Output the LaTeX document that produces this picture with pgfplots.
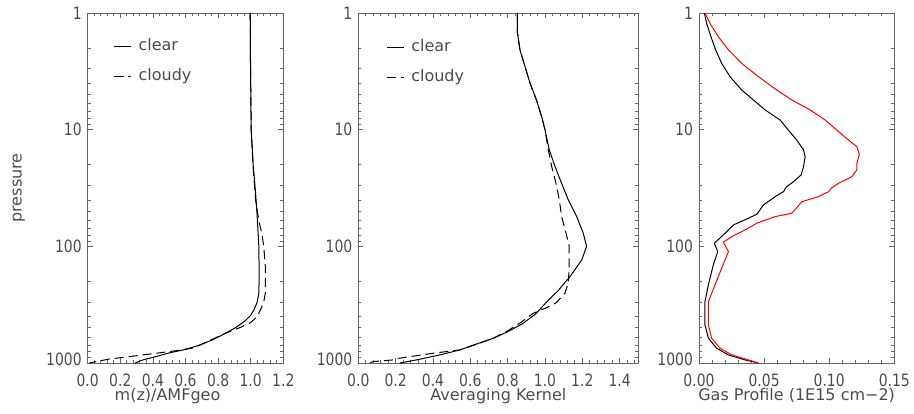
\documentclass[border=0pt]{standalone}
\usepackage{pgfplots}
\pgfplotsset{compat=1.18}
\usepackage{fontspec}
\setmainfont{DejaVu Sans}
\newfontfamily\tickfont[FakeStretch=0.82]{DejaVu Sans}
\definecolor{txt}{gray}{0.3}
\definecolor{frm}{gray}{0.4}
\pgfplotsset{
  every axis/.append style={
  scale only axis, height=350pt, y dir=reverse, ymin=1, ymax=1000,
  ytick={1,10,100,1000}, yticklabels={1,10,100,\raisebox{8pt}{1000}},
  minor ytick={2,3,4,5,6,7,8,9,20,30,40,50,60,70,80,90,200,300,400,500,600,700,800,900},
  tick align=inside, major tick length=5pt, minor tick length=3pt,
  axis line style={frm, line width=0.9pt},
  tick style={frm, line width=0.8pt},
  tick label style={font=\tickfont\fontsize{17}{17}\selectfont, text=txt},
  xticklabel style={anchor=base, yshift=-23pt},
  yticklabel style={xshift=-2.5pt},
  xlabel style={font=\fontsize{16}{16}\selectfont, text=txt, at={(axis description cs:0.5,0)}, anchor=base, yshift=-37pt},
  ylabel style={font=\fontsize{16}{16}\selectfont, text=txt},
  legend style={draw=none, fill=none, inner sep=0pt, font=\fontsize{16}{16}\selectfont, text=txt,
     row sep=14pt, column sep=7pt, nodes={inner sep=0pt, text height=12pt, text depth=4pt}},
  legend cell align=left,
 },
 every axis plot/.append style={line join=round},
}
\begin{document}
\begin{tikzpicture}
\path[use as bounding box] (0,0) rectangle (914pt,414pt);
% Panel 1
\begin{semilogyaxis}[width=195.6pt, at={(87.7pt,401pt)}, anchor=north west,
  xmin=0, xmax=1.2, xtick={0,0.2,0.4,0.6,0.8,1.0,1.2},
  xticklabels={0.0,0.2,0.4,0.6,0.8,1.0,1.2}, minor x tick num=4,
  xlabel={m(z)/AMFgeo}, xlabel style={xshift=-18pt},
  ylabel={pressure}, ylabel style={at={(axis description cs:-0.3374,0.5)}, anchor=base, rotate=0},
  legend style={at={(axis description cs:0.131,0.9286)}, anchor=north west}]
\addplot[black, line width=1pt] coordinates {(0.997,1) (0.999,3) (1.003,10) (1.015,20) (1.03,35) (1.04,56) (1.05,100) (1.052,180) (1.05,250) (1.04,300) (1.02,350) (1.0,390) (0.97,430) (0.91,495) (0.85,552) (0.77,630) (0.69,700) (0.60,765) (0.50,819) (0.42,880) (0.34,940) (0.29,1000)};
\addlegendentry{clear}
\addplot[black, line width=1pt, dash pattern=on 9pt off 5pt] coordinates {(0.997,1) (0.999,3) (1.003,10) (1.014,20) (1.03,40) (1.05,60) (1.07,80) (1.08,100) (1.09,150) (1.09,250) (1.08,300) (1.06,350) (1.04,400) (1.00,450) (0.93,500) (0.85,552) (0.75,640) (0.65,742) (0.54,785) (0.44,819) (0.33,855) (0.24,887) (0.135,923) (0.04,980) (0.01,1000)};
\addlegendentry{cloudy}
\end{semilogyaxis}
% Panel 2
\begin{semilogyaxis}[width=280pt, at={(358.3pt,401pt)}, anchor=north west,
  xmin=0, xmax=1.5, xtick={0,0.2,0.4,0.6,0.8,1.0,1.2,1.4},
  xticklabels={0.0,0.2,0.4,0.6,0.8,1.0,1.2,1.4},
  minor xtick={0.04,0.08,0.12,0.16,0.24,0.28,0.32,0.36,0.44,0.48,0.52,0.56,0.64,0.68,0.72,0.76,0.84,0.88,0.92,0.96,1.04,1.08,1.12,1.16,1.24,1.28,1.32,1.36,1.44,1.48},
  xlabel={Averaging Kernel},
  legend style={at={(axis description cs:0.099,0.924)}, anchor=north west}]
\addplot[black, line width=1pt] coordinates {(0.852,1) (0.852,1.45) (0.866,2.07) (0.893,2.88) (0.92,4.0) (0.955,5.6) (0.982,7.7) (1.0,10) (1.023,14.9) (1.054,20.7) (1.089,28.8) (1.125,40) (1.17,55.6) (1.205,77) (1.223,100) (1.197,131) (1.134,182) (1.07,240) (1.009,300) (0.95,380) (0.88,460) (0.80,540) (0.723,614) (0.62,700) (0.545,772) (0.438,852) (0.313,940) (0.223,1000)};
\addlegendentry{clear}
\addplot[black, line width=1pt, dash pattern=on 9pt off 5pt] coordinates {(0.852,1) (0.852,1.45) (0.866,2.07) (0.893,2.88) (0.92,4.0) (0.955,5.6) (0.982,7.7) (1.0,10) (1.018,14.9) (1.036,20.7) (1.059,28.8) (1.077,40) (1.089,55.6) (1.113,77) (1.13,100) (1.13,149) (1.125,207) (1.107,252) (1.06,305) (1.0,340) (0.937,375) (0.87,450) (0.80,530) (0.723,614) (0.545,772) (0.40,825) (0.22,910) (0.19,940) (0.08,972) (0.06,1000)};
\addlegendentry{cloudy}
\end{semilogyaxis}
% Panel 3
\begin{semilogyaxis}[width=195.3pt, at={(699pt,401pt)}, anchor=north west,
  xmin=0, xmax=0.15, xtick={0,0.05,0.1,0.15},
  xticklabels={0.00,0.05,0.10,0.15}, minor x tick num=4,
  xlabel={Gas Profile (1E15 cm\textminus 2)}]
\addplot[black, line width=1pt] coordinates {(0.0041,1) (0.0059,1.23) (0.0092,1.6) (0.0128,2.07) (0.0174,2.7) (0.0238,3.51) (0.0328,4.57) (0.0418,5.57) (0.0508,6.78) (0.0623,8.26) (0.0687,10.1) (0.0751,12.3) (0.0803,14.9) (0.0815,17) (0.0803,20.7) (0.0785,24.4) (0.0726,27.9) (0.067,31) (0.0649,34) (0.0585,37.5) (0.0495,44.2) (0.0444,53.1) (0.0379,57.5) (0.0264,65.6) (0.02,77.3) (0.0118,94.1) (0.0144,111) (0.011,144) (0.0072,214) (0.0046,298) (0.0046,387) (0.0046,471) (0.0072,614) (0.0136,747) (0.0226,853) (0.0354,941) (0.0456,1000)};
\addplot[red, line width=1pt] coordinates {(0.0046,1) (0.0085,1.23) (0.0149,1.6) (0.0226,2.07) (0.0328,2.7) (0.0456,3.51) (0.0597,4.57) (0.0713,5.57) (0.0854,6.78) (0.0969,8.26) (0.1059,10.1) (0.1149,12.3) (0.1213,14) (0.1231,16.3) (0.1213,19.4) (0.1213,22.1) (0.1174,25.3) (0.1072,28.8) (0.102,31.5) (0.0995,34) (0.0918,37.5) (0.079,41.4) (0.0713,52.1) (0.0585,55.6) (0.0444,63.4) (0.0354,72.3) (0.0252,82.6) (0.0187,92.2) (0.0226,111) (0.0174,154) (0.0123,214) (0.0072,298) (0.0072,387) (0.0072,471) (0.0097,614) (0.0162,747) (0.0252,853) (0.0379,941) (0.0456,1000)};
\end{semilogyaxis}
\end{tikzpicture}
\end{document}
